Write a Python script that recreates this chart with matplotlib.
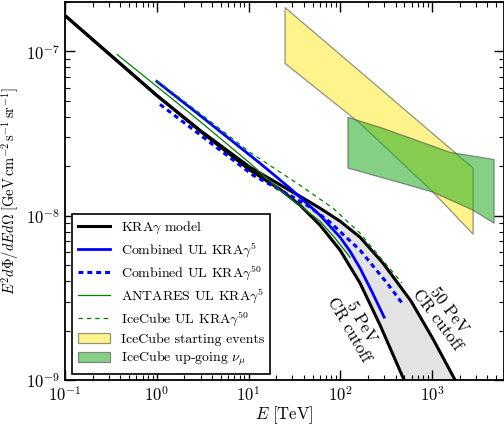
import numpy as np
import matplotlib
matplotlib.use("Agg")
import matplotlib.pyplot as plt

plt.rcParams.update({
    "font.family": "serif",
    "font.serif": ["cmr10", "DejaVu Serif"],
    "mathtext.fontset": "cm",
    "axes.unicode_minus": False,
    "axes.formatter.use_mathtext": True,
})

# ---- data (E in TeV, flux in GeV cm^-2 s^-1 sr^-1) ----
E_kra50 = [0.1, 1.0, 2.96, 10.4, 22.0, 36.4, 60.1, 99.4, 164, 292, 590, 1025, 1781, 2200]
F_kra50 = [1.655e-7, 5.40e-8, 3.31e-8, 1.97e-8, 1.545e-8, 1.314e-8, 1.111e-8, 9.26e-9,
           7.40e-9, 5.14e-9, 3.02e-9, 1.775e-9, 1.0e-9, 8.1e-10]
E_kra5 = [0.1, 1.0, 2.96, 10.4, 22.0, 36.4, 60.1, 99.4, 164, 271, 495, 600]
F_kra5 = [1.655e-7, 5.40e-8, 3.28e-8, 1.89e-8, 1.449e-8, 1.158e-8, 8.76e-9, 6.17e-9,
          3.89e-9, 2.16e-9, 1.0e-9, 7.8e-10]

E_comb5 = [1.0, 2.96, 13.35, 28.3, 60.1, 99.4, 127.7, 164, 222, 300]
F_comb5 = [6.57e-8, 4.08e-8, 2.085e-8, 1.47e-8, 1.007e-8, 7.40e-9, 6.08e-9, 4.80e-9,
           3.43e-9, 2.415e-9]

E_comb50 = [1.085, 2.96, 11.2, 28.3, 46.8, 77.3, 164, 323, 471]
F_comb50 = [4.76e-8, 3.11e-8, 1.763e-8, 1.33e-8, 1.127e-8, 9.13e-9, 6.17e-9, 3.89e-9, 2.94e-9]

E_ant5 = [0.369, 1.0, 2.96, 10.4, 22.0, 60.1, 87.7, 127.7]
F_ant5 = [9.59e-8, 6.13e-8, 3.75e-8, 2.085e-8, 1.43e-8, 9.26e-9, 7.30e-9, 5.59e-9]

E_ic50 = [1.0, 2.96, 10.4, 36.4, 83.4, 164, 271, 471]
F_ic50 = [6.66e-8, 4.20e-8, 2.43e-8, 1.532e-8, 1.111e-8, 7.83e-9, 5.59e-9, 3.89e-9]

E_hese_top = [25.0, 164, 2800]
F_hese_top = [1.85e-7, 7.55e-8, 1.95e-8]
E_hese_bot = [25.0, 164, 1026, 2800]
F_hese_bot = [8.45e-8, 3.65e-8, 1.39e-8, 7.72e-9]

E_up_top = [121, 271, 483, 1570, 4740]
F_up_top = [3.97e-8, 3.45e-8, 3.08e-8, 2.43e-8, 2.20e-8]
E_up_bot = [121, 483, 1026, 2800, 4740]
F_up_bot = [1.95e-8, 1.57e-8, 1.39e-8, 1.08e-8, 9.0e-9]

labels = [r"KRA$\gamma$ model", r"Combined UL KRA$\gamma^5$", r"Combined UL KRA$\gamma^{50}$",
          r"ANTARES UL KRA$\gamma^5$", r"IceCube UL KRA$\gamma^{50}$",
          "IceCube starting events", r"IceCube up-going $\nu_\mu$"]

fig = plt.figure(figsize=(5.04, 4.24), dpi=100)
ax = fig.add_axes([65 / 504, 44 / 424, 438.5 / 504, 378 / 424])
ax.set_xscale("log")
ax.set_yscale("log")

# gray band between the two cutoff curves
eg = np.logspace(np.log10(0.1), np.log10(2200), 400)
up = 10 ** np.interp(np.log10(eg), np.log10(E_kra50), np.log10(F_kra50))
lo = 10 ** np.interp(np.log10(eg), np.log10(E_kra5), np.log10(F_kra5),
                     right=np.log10(1e-11))
ax.fill_between(eg, lo, up, color="0.89", lw=0, zorder=1)

ax.plot(E_kra50, F_kra50, color="black", lw=2.2, zorder=3, label=labels[0])
ax.plot(E_kra5, F_kra5, color="black", lw=2.2, zorder=3)
ax.plot(E_comb5, F_comb5, color="blue", lw=2.0, zorder=4, label=labels[1])
ax.plot(E_comb50, F_comb50, color="blue", lw=2.2, ls=(0, (1.6, 1.3)), zorder=4, label=labels[2])
ax.plot(E_ant5, F_ant5, color="green", lw=0.9, zorder=4, label=labels[3])
ax.plot(E_ic50, F_ic50, color="green", lw=0.9, ls=(0, (3.5, 3.2)), zorder=4, label=labels[4])

ax.fill(E_hese_top + E_hese_bot[::-1], F_hese_top + F_hese_bot[::-1],
        facecolor=(1.0, 0.92, 0.1, 0.5), edgecolor=(0.3, 0.3, 0.3, 0.6), lw=0.9,
        zorder=2, label=labels[5])
ax.fill(E_up_top + E_up_bot[::-1], F_up_top + F_up_bot[::-1],
        facecolor=(0.13, 0.67, 0.13, 0.55), edgecolor=(0.3, 0.3, 0.3, 0.6), lw=0.9,
        zorder=2, label=labels[6])

ax.set_xlim(0.1, 6000)
ax.set_ylim(1e-9, 2e-7)

ax.tick_params(which="both", direction="in", top=True, right=True, labelsize=12)
ax.tick_params(which="major", length=7, width=1.0)
ax.tick_params(which="minor", length=3.5, width=0.8)
for s in ax.spines.values():
    s.set_linewidth(1.3)

ax.set_xlabel(r"$E\ [\mathrm{TeV}]$", fontsize=12, labelpad=0)
ax.set_ylabel(r"$E^2 d\Phi/dEd\Omega\;[\mathrm{GeV\,cm^{-2}\,s^{-1}\,sr^{-1}}]$",
              fontsize=10.5, labelpad=3)

ax.text(145, 2.13e-9, "5 PeV\nCR cutoff", rotation=-60, ha="center", va="center",
        fontsize=12, rotation_mode="anchor", linespacing=1.0)
ax.text(1318, 2.48e-9, "50 PeV\nCR cutoff", rotation=-53, ha="center", va="center",
        fontsize=12, rotation_mode="anchor", linespacing=1.0)

leg = ax.legend(loc="lower left", bbox_to_anchor=(7 / 438.5, 6 / 378), borderaxespad=0,
                fontsize=10, frameon=True, fancybox=False, edgecolor="black",
                framealpha=1, handlelength=2.3, labelspacing=0.33, borderpad=0.4)
leg.get_frame().set_linewidth(1.2)

fig.savefig("out.png", dpi=100)
